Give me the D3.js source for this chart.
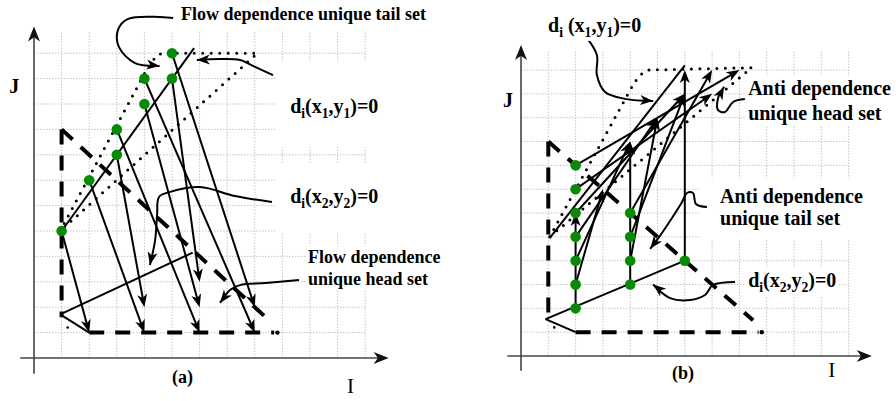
<!DOCTYPE html>
<html><head><meta charset="utf-8">
<script src="https://cdn.jsdelivr.net/npm/d3@7"></script>
<style>html,body{margin:0;padding:0;background:#fff;} svg{display:block;font-family:"Liberation Serif","Times New Roman",serif;}</style>
</head><body><svg id="c" width="896" height="401"></svg>
<script>
// ---------------- DATA (grid units) ----------------
const gridTicks = d3.range(1, 13);
// panel (a): flow dependence
const flowTails = [[1,5],[2,7],[3,8],[3,9],[4,10],[4,11],[5,11],[5,12]];
const flowHeads = [[2,1],[4,1],[4,2],[6,1],[6,2],[8,1],[6,3],[8,2]];
const flowRegion = [[0.95,5],[4.4,12],[8.1,12]];
const flowPlaneLine = [[1,5],[5.8,12.2]];
const flowHeadLine = [[0.95,1.72],[5.75,4.15]];
// panel (b): anti dependence
const antiDots = [[2,2],[2,3],[2,4],[2,5],[2,6],[2,7],[2,8],[4,3],[4,4],[4,5],[4,6],[6,4]];
const antiTails = [[2,8],[2,7],[2,6],[2,5],[2,4],[2,3],[4,6],[4,5],[4,4],[6,4],[4,3],[2,2]];
const antiHeads = [[8,12],[7,11],[6,11],[5,10],[4,9],[3,7],[7,12],[6,11],[5,10],[6,12],[4,9],[2,6]];
const antiRegion = [[1.05,5],[4.4,12],[8.45,12.1]];
const antiPlaneLine = [[1.05,4.95],[6,12.2]];
const antiHeadLine = [[0.9,1.55],[6,4]];
// shared iteration-space outline
const dashedVertical = [[1,9],[1,1.6]];
const dashedBottom = [[2,1],[8.7,1]];
const dashedDiagonal = [[1,9],[8.5,1.5]];

const svg = d3.select("#c");

function panel(cfg) {
  const x = d3.scaleLinear().domain([0,12]).range([cfg.x0, cfg.x0 + cfg.ux*12]);
  const y = d3.scaleLinear().domain([0,12]).range([cfg.y0, cfg.y0 - cfg.uy*12]);
  const g = svg.append("g");
  const P = p => [x(p[0]), y(p[1])];
  const line = d3.line().x(d => x(d[0])).y(d => y(d[1]));

  // grid
  const grid = g.append("g").attr("stroke","#c4c4c4").attr("stroke-width",1).attr("stroke-dasharray","1.5 1.5");
  gridTicks.forEach(t => {
    grid.append("line").attr("x1",x(t)).attr("x2",x(t)).attr("y1",y(0)).attr("y2",y(12.85));
    grid.append("line").attr("x1",x(0)).attr("x2",x(12)).attr("y1",y(t)).attr("y2",y(t));
  });
  cfg.masks.forEach(m => {
    g.append("rect").attr("x",x(m[0])).attr("y",y(m[3])).attr("width",x(m[2])-x(m[0])).attr("height",y(m[1])-y(m[3])).attr("fill","#fff");
  });

  // axes
  const ax = g.append("g").attr("stroke","#444").attr("stroke-width",1.6);
  ax.append("line").attr("x1",x(0)).attr("x2",x(0)).attr("y1",y(-0.62)).attr("y2",y(12.7));
  ax.append("line").attr("x1",x(-0.5)).attr("x2",x(12.5)).attr("y1",y(0)).attr("y2",y(0));
  arrowHead(g, x(0), y(5), x(0), y(13.05), 15, 6, "#111");
  arrowHead(g, x(5), y(0), x(12.85), y(0), 15, 6, "#111");

  // dashed iteration space
  const dash = g.append("g").attr("fill","none").attr("stroke","#000").attr("stroke-width",4).attr("stroke-dasharray","15 11");
  dash.append("path").attr("d", line(dashedVertical));
  dash.append("path").attr("d", line(dashedBottom));
  dash.append("path").attr("d", line(dashedDiagonal));
  g.append("circle").attr("cx",x(dashedBottom[1][0]+0.12)).attr("cy",y(1)).attr("r",2.2).attr("fill","#000");
  g.append("circle").attr("cx",x(1.22)).attr("cy",y(1.2)).attr("r",1.3).attr("fill","#000");

  // dotted region
  const r = cfg.region;
  const a = P(r[0]), b = P(r[1]), c = P(r[2]);
  const k1 = [b[0] - (b[0]-a[0])*0.12, b[1] - (b[1]-a[1])*0.12];
  const k2 = [b[0] + (c[0]-b[0])*0.08, b[1]];
  g.append("path")
    .attr("d", `M${a}L${k1}Q${b} ${k2}L${c}L${a}`)
    .attr("fill","none").attr("stroke","#000").attr("stroke-width",3)
    .attr("stroke-linecap","round").attr("stroke-dasharray","0 8.5");

  // solid structure lines
  const sol = g.append("g").attr("fill","none").attr("stroke","#000").attr("stroke-width",2);
  sol.append("path").attr("d", line(cfg.planeLine));
  sol.append("path").attr("d", line(cfg.headLine));
  sol.append("path").attr("d", line([cfg.headLine[0],[2,1]]));

  // dependence arrows
  cfg.tails.forEach((t,i) => {
    const h = cfg.heads[i];
    arrow(g, x(t[0]), y(t[1]), x(h[0]), y(h[1]));
  });

  // green dots
  g.selectAll(null).data(cfg.dots).join("circle")
    .attr("cx", d => x(d[0])).attr("cy", d => y(d[1])).attr("r",5.3).attr("fill","#078a07");

  // pointers
  const curve = d3.line().x(d => x(d[0])).y(d => y(d[1])).curve(d3.curveCatmullRom.alpha(0.5));
  cfg.pointers.forEach(pts => {
    const n = pts.length;
    const tip = P(pts[n-1]), prev = P(pts[n-2]);
    const ang = Math.atan2(tip[1]-prev[1], tip[0]-prev[0]);
    g.append("path").attr("d", curve(pts)).attr("fill","none").attr("stroke","#000").attr("stroke-width",2);
    arrowHead(g, tip[0]-Math.cos(ang)*20, tip[1]-Math.sin(ang)*20, tip[0], tip[1], 13, 5, "#000");
  });

  // labels
  cfg.labels.forEach(L => {
    const fs = L.size || cfg.fontSize;
    const t = g.append("text").attr("x", x(L.i)).attr("y", y(L.j))
      .attr("font-size", fs).attr("font-weight", L.bold === false ? "normal" : "bold").attr("fill","#000");
    let shifted = false;
    L.parts.forEach(p => {
      if (Array.isArray(p)) {
        t.append("tspan").attr("font-size", fs*0.68).attr("dy", shifted ? 0 : 5).text(p[0]);
        shifted = true;
      } else {
        const s = t.append("tspan").text(p);
        if (shifted) { s.attr("dy", -5); shifted = false; }
      }
    });
    if (L.box) {
      const bb = t.node().getBBox();
      g.insert("rect", function(){ return t.node(); })
        .attr("x", bb.x-2).attr("y", bb.y-1).attr("width", bb.width+4).attr("height", bb.height+2).attr("fill","#fff");
    }
  });
}

function arrowHead(g, x1, y1, x2, y2, L, W, col) {
  const a = Math.atan2(y2-y1, x2-x1), ux = Math.cos(a), uy = Math.sin(a), px = -uy, py = ux;
  const bx = x2-ux*L, by = y2-uy*L, nx = x2-ux*L*0.72, ny = y2-uy*L*0.72;
  g.append("path").attr("d", `M${x2},${y2}L${bx+px*W},${by+py*W}L${nx},${ny}L${bx-px*W},${by-py*W}Z`).attr("fill", col || "#000");
}
function arrow(g, x1, y1, x2, y2) {
  const a = Math.atan2(y2-y1, x2-x1);
  g.append("line").attr("x1",x1).attr("y1",y1).attr("x2",x2-Math.cos(a)*8).attr("y2",y2-Math.sin(a)*8)
    .attr("stroke","#000").attr("stroke-width",2);
  arrowHead(g, x1, y1, x2, y2, 13, 5, "#000");
}

// ---------------- PANEL (a) ----------------
panel({
  x0: 34, ux: 27.6, y0: 358, uy: 25.4, fontSize: 18,
  masks: [[8.77,8.3,12.3,11.65],[8.77,4.9,12.3,7.68]],
  region: flowRegion, planeLine: flowPlaneLine, headLine: flowHeadLine,
  tails: flowTails, heads: flowHeads, dots: flowTails,
  pointers: [
    [[5.04,13.39],[3.41,13.35],[3.04,12.91],[3.08,12.24],[3.66,11.61],[4.55,11.5]],
    [[8.66,11.14],[8.01,11.46],[7.46,11.73],[6.74,11.77],[5.9,11.73]],
    [[8.62,6.14],[7.28,6.38],[6.01,6.73],[4.93,6.54],[4.53,6.34],[4.46,5.63],[4.39,4.65],[4.2,3.66]],
    [[9.6,3.07],[8.4,2.95],[7.46,2.87],[7.1,2.68],[6.74,2.17]]
  ],
  labels: [
    {i:5.33, j:13.31, parts:["Flow dependence unique tail set"], box:true},
    {i:9.28, j:9.65, size:20, parts:["d",["i"],"(x",["1"],",y",["1"],")=0"], box:true},
    {i:9.28, j:6.1, size:20, parts:["d",["i"],"(x",["2"],",y",["2"],")=0"], box:true},
    {i:9.93, j:3.74, parts:["Flow dependence"], box:true},
    {i:9.93, j:2.87, parts:["unique head set"], box:true},
    {i:-0.9, j:10.43, size:20, parts:["J"]},
    {i:11.34, j:-1.38, size:21, bold:false, parts:["I"]},
    {i:5.0, j:-0.98, parts:["(a)"]}
  ]
});

// ---------------- PANEL (b) ----------------
panel({
  x0: 521, ux: 27.3, y0: 356, uy: 23.83, fontSize: 20,
  masks: [[6.6,4.9,12.3,7.45]],
  region: antiRegion, planeLine: antiPlaneLine, headLine: antiHeadLine,
  tails: antiTails, heads: antiHeads, dots: antiDots,
  pointers: [
    [[2.42,13.34],[2.78,12.63],[2.78,11.79],[3.08,11.08],[3.81,10.79],[4.84,10.7]],
    [[8.2,10.78],[7.77,10.66],[7.47,10.24],[7.22,10.32],[7.22,10.83],[7.44,11.3]],
    [[6.81,6.25],[6.41,6.38],[6.3,6.84],[6.08,6.84],[5.9,6.46],[5.53,5.79],[5.09,5.04],[4.73,4.5]],
    [[7.84,3.11],[7.03,2.98],[6.74,2.56],[6.19,2.35],[5.46,2.43],[4.84,3.0]]
  ],
  labels: [
    {i:0.99, j:13.6, parts:["d",["i"]," (x",["1"],",y",["1"],")=0"], box:true},
    {i:8.32, j:10.95, parts:["Anti dependence"], box:true},
    {i:8.32, j:9.9, parts:["unique head set"], box:true},
    {i:7.29, j:6.42, parts:["Anti dependence"], box:true},
    {i:7.29, j:5.5, parts:["unique tail set"], box:true},
    {i:8.32, j:2.9, parts:["d",["i"],"(x",["2"],",y",["2"],")=0"], box:true},
    {i:-0.66, j:10.45, parts:["J"]},
    {i:11.25, j:-0.88, size:21, bold:false, parts:["I"]},
    {i:5.53, j:-0.97, size:18, parts:["(b)"]}
  ]
});
</script></body></html>
